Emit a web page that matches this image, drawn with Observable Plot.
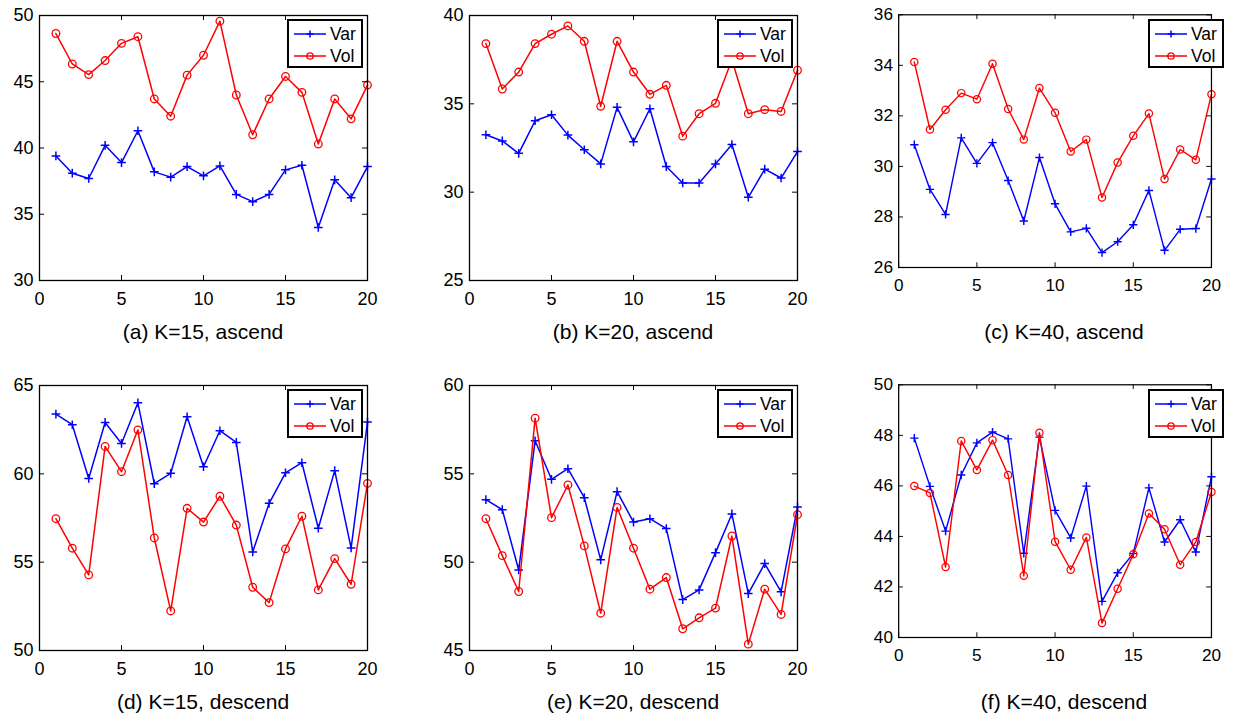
<!DOCTYPE html>
<html>
<head>
<meta charset="utf-8">
<script src="https://cdn.jsdelivr.net/npm/d3@7"></script>
<script src="https://cdn.jsdelivr.net/npm/@observablehq/plot@0.6"></script>
<style>
  html, body { margin: 0; padding: 0; background: #fff; }
  #page { position: relative; width: 1252px; height: 718px; overflow: hidden; font-family: "Liberation Sans", Arial, Helvetica, sans-serif; }
  .panel { position: absolute; }
  .caption { position: absolute; font-size: 21px; color: #000; white-space: nowrap; transform: translate(-50%, -50%); }
  .legend { position: absolute; background: #fff; border: 2px solid #000; box-sizing: border-box; z-index: 2; }
  .legend svg { display: block; }
</style>
</head>
<body>
<div id="page"></div>
<script>
// ---- data ----
const iterations = [1, 2, 3, 4, 5, 6, 7, 8, 9, 10, 11, 12, 13, 14, 15, 16, 17, 18, 19, 20];
const xTicks = [0, 5, 10, 15, 20];
const seriesNames = ["Var", "Vol"];
const captions = ["(a) K=15, ascend", "(b) K=20, ascend", "(c) K=40, ascend",
                  "(d) K=15, descend", "(e) K=20, descend", "(f) K=40, descend"];

const varA = [39.4, 38.1, 37.7, 40.2, 38.9, 41.3, 38.2, 37.8, 38.6, 37.9, 38.65, 36.5, 35.95, 36.5, 38.35, 38.7, 34.0, 37.6, 36.25, 38.6];
const volA = [48.64, 46.34, 45.54, 46.6, 47.9, 48.4, 43.7, 42.4, 45.5, 47.0, 49.57, 44.0, 41.0, 43.7, 45.4, 44.2, 40.3, 43.7, 42.2, 44.75];
const varB = [33.25, 32.9, 32.2, 34.04, 34.38, 33.23, 32.4, 31.6, 34.8, 32.85, 34.72, 31.45, 30.52, 30.52, 31.6, 32.7, 29.71, 31.3, 30.8, 32.3];
const volB = [38.41, 35.84, 36.8, 38.41, 38.94, 39.41, 38.54, 34.86, 38.54, 36.8, 35.54, 36.05, 33.17, 34.44, 35.03, 37.5, 34.44, 34.67, 34.57, 36.9];
const varC = [30.86, 29.09, 28.1, 31.13, 30.12, 30.94, 29.44, 27.84, 30.35, 28.52, 27.41, 27.55, 26.59, 27.02, 27.69, 29.05, 26.68, 27.51, 27.54, 29.5];
const volC = [34.13, 31.46, 32.24, 32.9, 32.66, 34.06, 32.27, 31.06, 33.1, 32.12, 30.59, 31.06, 28.77, 30.15, 31.21, 32.09, 29.5, 30.67, 30.26, 32.86];
const varD = [63.38, 62.78, 59.74, 62.91, 61.72, 64.02, 59.44, 60.03, 63.23, 60.4, 62.44, 61.78, 55.58, 58.33, 60.06, 60.63, 56.92, 60.18, 55.8, 62.93];
const volD = [57.46, 55.79, 54.28, 61.55, 60.12, 62.49, 56.37, 52.24, 58.05, 57.27, 58.73, 57.1, 53.58, 52.71, 55.75, 57.6, 53.43, 55.2, 53.75, 59.46];
const varE = [53.54, 52.97, 49.56, 56.87, 54.69, 55.29, 53.65, 50.13, 53.99, 52.27, 52.46, 51.9, 47.88, 48.43, 50.54, 52.73, 48.22, 49.92, 48.32, 53.12];
const volE = [52.46, 50.37, 48.34, 58.15, 52.52, 54.37, 50.92, 47.11, 53.1, 50.79, 48.47, 49.13, 46.23, 46.85, 47.4, 51.48, 45.36, 48.47, 47.04, 52.69];
const varF = [47.89, 45.98, 44.21, 46.43, 47.7, 48.13, 47.86, 43.33, 47.93, 45.03, 43.94, 45.99, 41.43, 42.56, 43.32, 45.92, 43.78, 44.66, 43.38, 46.36];
const volF = [45.99, 45.72, 42.79, 47.78, 46.63, 47.81, 46.43, 42.44, 48.1, 43.79, 42.68, 43.96, 40.57, 41.93, 43.29, 44.91, 44.28, 42.88, 43.78, 45.76];

const yTicksA = [30, 35, 40, 45, 50];
const yTicksB = [25, 30, 35, 40];
const yTicksC = [26, 28, 30, 32, 34, 36];
const yTicksD = [50, 55, 60, 65];
const yTicksE = [45, 50, 55, 60];
const yTicksF = [40, 42, 44, 46, 48, 50];

const panels = [
  {v: varA, o: volA, ticks: yTicksA},
  {v: varB, o: volB, ticks: yTicksB},
  {v: varC, o: volC, ticks: yTicksC},
  {v: varD, o: volD, ticks: yTicksD},
  {v: varE, o: volE, ticks: yTicksE},
  {v: varF, o: volF, ticks: yTicksF}
];

// ---- layout ----
const BLUE = "#0000ff", RED = "#ff0000";
const W = 410, H = 310, ML = 39, MR = 43, MT = 15, MB = 30;
const innerW = W - ML - MR, innerH = H - MT - MB;
const colLeft = [0, 430, 861];
const rowTop = [0, 370];
const TICK = 5;

const page = document.getElementById("page");

panels.forEach((p, i) => {
  const col = i % 3, row = Math.floor(i / 3);
  const rows = iterations.map((it, k) => ({it, var: p.v[k], vol: p.o[k]}));
  const yDomain = [p.ticks[0], p.ticks[p.ticks.length - 1]];

  const chart = Plot.plot({
    width: W, height: H,
    marginLeft: ML, marginRight: MR, marginTop: MT, marginBottom: MB,
    style: {fontFamily: "'Liberation Sans', Arial, sans-serif", fontSize: "18px", color: "#000", background: "transparent", overflow: "visible"},
    x: {domain: [0, 20], ticks: xTicks, tickSize: 0, tickPadding: 12, label: null},
    y: {domain: yDomain, ticks: p.ticks, tickSize: 0, tickPadding: 6, label: null},
    marks: [
      Plot.line(rows, {x: "it", y: "var", stroke: BLUE, strokeWidth: 1.5}),
      Plot.dot(rows, {x: "it", y: "var", symbol: "plus", r: 2.9, stroke: BLUE, strokeWidth: 1.5}),
      Plot.line(rows, {x: "it", y: "vol", stroke: RED, strokeWidth: 1.5}),
      Plot.dot(rows, {x: "it", y: "vol", symbol: "circle", r: 3.8, stroke: RED, fill: "none", strokeWidth: 1.3}),
      // inward ticks (bottom, top, left, right)
      Plot.tickX(xTicks, {x: d => d, insetTop: innerH - TICK, stroke: "#000", strokeWidth: 1}),
      Plot.tickX(xTicks, {x: d => d, insetBottom: innerH - TICK, stroke: "#000", strokeWidth: 1}),
      Plot.tickY(p.ticks, {y: d => d, insetRight: innerW - TICK, stroke: "#000", strokeWidth: 1}),
      Plot.tickY(p.ticks, {y: d => d, insetLeft: innerW - TICK, stroke: "#000", strokeWidth: 1}),
      Plot.frame({stroke: "#000", strokeWidth: 1.3})
    ]
  });
  const holder = document.createElement("div");
  holder.className = "panel";
  holder.style.left = colLeft[col] + "px";
  holder.style.top = rowTop[row] + "px";
  holder.appendChild(chart);
  page.appendChild(holder);

  // legend box (top-right inside the plot area)
  const LW = 76, LH = 49;
  const legend = document.createElement("div");
  legend.className = "legend";
  legend.style.width = LW + "px";
  legend.style.height = LH + "px";
  legend.style.left = (colLeft[col] + ML + innerW - 4 - LW) + "px";
  legend.style.top = (rowTop[row] + MT + 4) + "px";
  const ns = "http://www.w3.org/2000/svg";
  const lsvg = document.createElementNS(ns, "svg");
  lsvg.setAttribute("width", LW - 4);
  lsvg.setAttribute("height", LH - 4);
  seriesNames.forEach((name, j) => {
    const cy = j === 0 ? 13 : 35;
    const color = j === 0 ? BLUE : RED;
    const ln = document.createElementNS(ns, "line");
    ln.setAttribute("x1", 5); ln.setAttribute("x2", 37);
    ln.setAttribute("y1", cy); ln.setAttribute("y2", cy);
    ln.setAttribute("stroke", color); ln.setAttribute("stroke-width", 1.5);
    lsvg.appendChild(ln);
    if (j === 0) {
      const pl = document.createElementNS(ns, "path");
      pl.setAttribute("d", `M21,${cy - 3.5}V${cy + 3.5}M17.5,${cy}H24.5`);
      pl.setAttribute("stroke", color); pl.setAttribute("stroke-width", 1.5);
      lsvg.appendChild(pl);
    } else {
      const c = document.createElementNS(ns, "circle");
      c.setAttribute("cx", 21); c.setAttribute("cy", cy); c.setAttribute("r", 3.2);
      c.setAttribute("stroke", color); c.setAttribute("fill", "none"); c.setAttribute("stroke-width", 1.3);
      lsvg.appendChild(c);
    }
    const t = document.createElementNS(ns, "text");
    t.setAttribute("x", 41); t.setAttribute("y", cy);
    t.setAttribute("dy", "0.35em");
    t.setAttribute("font-size", "17.5px");
    t.setAttribute("font-family", "'Liberation Sans', Arial, sans-serif");
    t.textContent = name;
    lsvg.appendChild(t);
  });
  legend.appendChild(lsvg);
  page.appendChild(legend);

  // caption
  const cap = document.createElement("div");
  cap.className = "caption";
  cap.textContent = captions[i];
  cap.style.left = (colLeft[col] + ML + innerW / 2) + "px";
  cap.style.top = (rowTop[row] + MT + innerH + 51.5) + "px";
  page.appendChild(cap);
});
</script>
</body>
</html>
